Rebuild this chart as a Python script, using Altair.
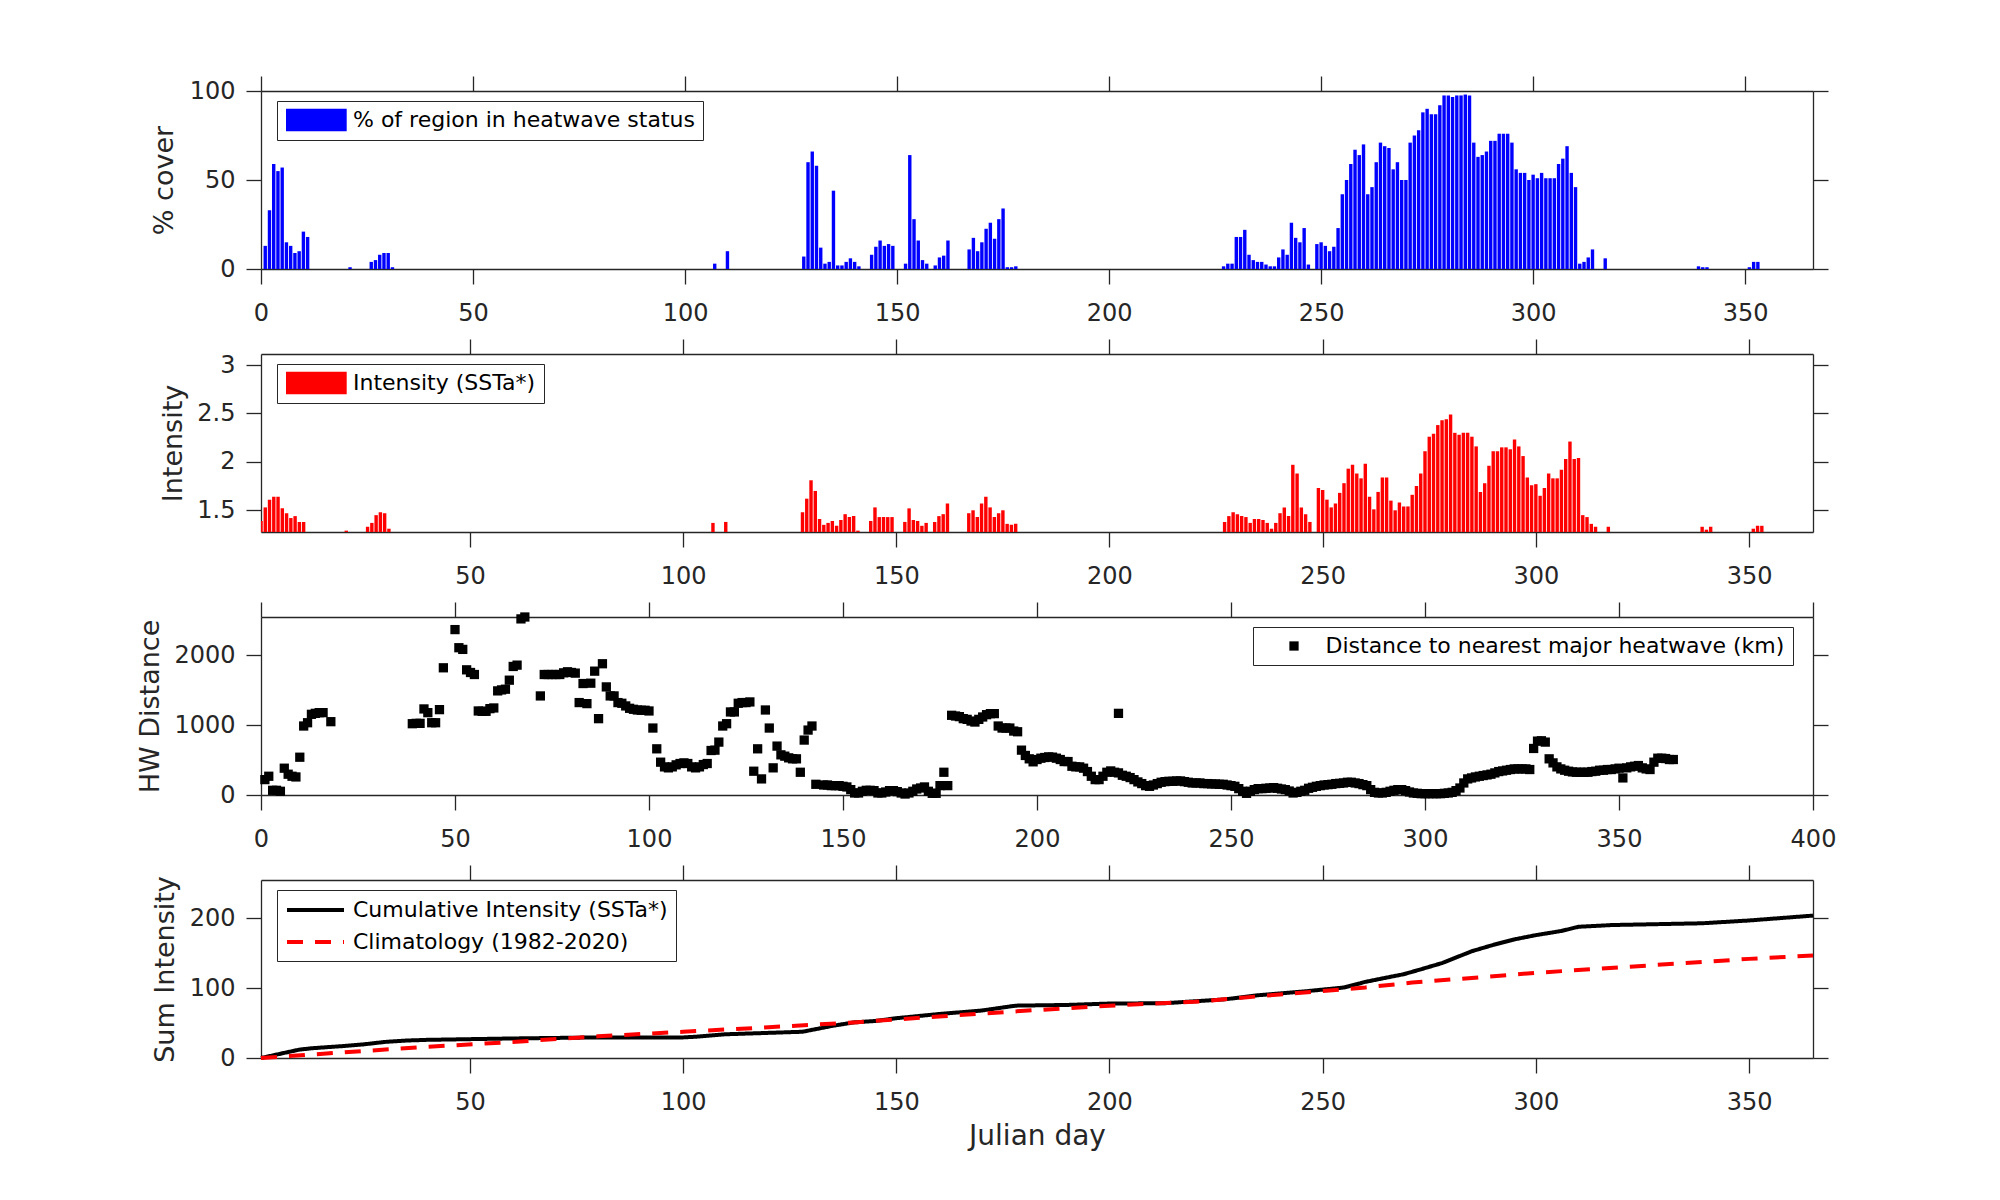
import altair as alt
import pandas as pd

FONT = "DejaVu Sans"
AX = "#262626"
BLUE = "#0000ff"
RED = "#ff0000"

# ---------------- data ----------------
# days with a heatwave signal (same days for % cover and intensity)
event_days = [*range(1, 12), 21, *range(26, 32), 107, 110, *range(128, 142),
              *range(144, 150), *range(152, 158), *range(159, 163), *range(167, 179),
              *range(227, 248), *range(249, 315), 317, *range(339, 342), *range(351, 354)]

cover_pct = [13, 33, 59, 55, 57, 15, 13, 9, 10, 21, 18,
             1,
             4, 5, 8, 9, 9, 1,
             3,
             10,
             7, 60, 66, 58, 12, 3, 4, 44, 2, 2, 4, 6, 4, 1.5,
             8, 12.5, 16, 13, 14, 13,
             3, 64, 28, 16, 5, 3,
             2, 6.5, 7.5, 16,
             11, 17.5, 10, 15, 22.6, 26, 17, 28, 34, 1, 1, 1.5,
             1.5, 3, 3, 18, 18, 22, 8, 5, 4, 4, 2.5, 1.5, 1.5, 6.5, 11, 8, 26, 17.5, 15, 23, 2.5,
             14, 15, 13, 10, 12.5, 23, 42, 50, 59, 67, 64, 70, 42, 46, 60, 71, 69, 68, 56, 60,
             50, 50, 71, 75, 78, 88, 90, 87, 87, 92, 97.5, 97.5, 96.6, 97.5, 97.5, 98, 97.5, 71, 63, 64,
             66, 72, 72, 76, 76, 76, 71, 56, 54, 54, 50, 53, 51, 54, 51, 51, 51, 59, 62, 69,
             54, 46, 3, 4, 6.5, 11,
             6,
             1.5, 1, 1,
             1, 4, 4]

intensity_ssta = [1.39, 1.53, 1.61, 1.64, 1.64, 1.52, 1.47, 1.42, 1.44, 1.38, 1.38,
                  1.29,
                  1.33, 1.37, 1.45, 1.48, 1.47, 1.31,
                  1.37,
                  1.38,
                  1.48, 1.62, 1.81, 1.70, 1.41, 1.35, 1.37, 1.39, 1.34, 1.40, 1.46, 1.43, 1.44, 1.29,
                  1.39, 1.53, 1.43, 1.43, 1.43, 1.43,
                  1.38, 1.52, 1.40, 1.39, 1.34, 1.37,
                  1.38, 1.44, 1.46, 1.57,
                  1.47, 1.50, 1.43, 1.57, 1.64, 1.53, 1.43, 1.47, 1.50, 1.36, 1.35, 1.36,
                  1.38, 1.44, 1.48, 1.46, 1.44, 1.43, 1.37, 1.41, 1.41, 1.40, 1.37, 1.31, 1.37, 1.47,
                  1.53, 1.44, 1.97, 1.88, 1.53, 1.46, 1.38,
                  1.73, 1.71, 1.61, 1.53, 1.57, 1.68, 1.78, 1.93, 1.97, 1.88, 1.83, 1.98, 1.64, 1.51,
                  1.69, 1.84, 1.84, 1.60, 1.50, 1.58, 1.54, 1.54, 1.66, 1.75, 1.88, 2.11, 2.26, 2.29,
                  2.38, 2.43, 2.44, 2.49, 2.30, 2.28, 2.30, 2.30, 2.26, 2.16, 1.69, 1.78, 1.96, 2.11,
                  2.11, 2.15, 2.15, 2.13, 2.23, 2.16, 2.06, 1.84, 1.76, 1.77, 1.65, 1.73, 1.88, 1.83,
                  1.83, 1.92, 2.03, 2.21, 2.03, 2.04, 1.45, 1.43, 1.36, 1.33,
                  1.33,
                  1.33, 1.30, 1.33,
                  1.31, 1.34, 1.34]

dist_days = [*range(1, 17), 18, *range(39, 48), *range(50, 69), *range(72, 144),
             *range(145, 282), 221, *range(282, 365)]
dist_km = [220, 268, 67, 67, 53, 383, 297, 268, 258, 540, 986, 1033, 1153, 1167, 1177, 1177,
           1048,
           1019, 1024, 1024, 1230, 1177, 1033, 1033, 1220, 1818,
           2364, 2105, 2081, 1789, 1751, 1722, 1201, 1196, 1196, 1234, 1244, 1488, 1502, 1512,
           1641, 1837, 1856, 2517, 2544,
           1416, 1722, 1722, 1722, 1722, 1722, 1746, 1761, 1751, 1742,
           1321, 1593, 1306, 1598, 1770, 1091, 1876, 1545, 1416, 1416,
           1321, 1311, 1273, 1239, 1225, 1215, 1211, 1211, 1201, 957,
           660, 469, 402, 388, 402, 431, 450, 459, 450, 402,
           388, 402, 435, 450, 636, 641, 756, 986, 1019, 1187,
           1187, 1311, 1321, 1321, 1330, 340, 660, 230, 1215, 957,
           388, 699, 574, 555, 531, 517, 517, 325, 785, 928,
           986, 153,
           143, 143, 134, 134, 134, 124, 115, 77, 29, 29,
           53, 67, 67, 62, 29, 29, 43, 62, 62, 48,
           29, 14, 29, 53, 86, 100, 115, 53, 24, 24,
           134, 325, 134, 1139, 1129, 1120, 1091, 1081, 1057, 1043,
           1081, 1115, 1148, 1163, 1163, 986, 957, 957, 957, 914,
           904, 641, 565, 517, 474, 507, 526, 536, 545, 541,
           526, 507, 478, 478, 411, 402, 402, 383, 335, 268,
           220, 220, 268, 325, 344, 325, 316, 282, 268, 249,
           220, 187, 163, 134, 124, 143, 163, 182, 191, 196,
           196, 201, 201, 191, 182, 172, 172, 172, 163, 163,
           158, 158, 153, 153, 143, 134, 124, 91, 53, 24,
           53, 77, 91, 91, 96, 100, 105, 96, 86, 77,
           57, 29, 38, 53, 67, 96, 110, 124, 134, 143,
           148, 153, 163, 167, 172, 182, 182,
           1167,
           172, 163, 148, 134, 77, 38, 29, 29, 38, 53,
           67, 77, 77, 62, 43, 29, 24, 19, 19, 19,
           19, 19, 19, 24, 29, 38, 62, 100, 172, 230,
           244, 258, 268, 278, 287, 297, 316, 335, 344, 354,
           364, 373, 373, 373, 373, 364, 665, 770, 775, 756,
           517, 459, 402, 373, 354, 340, 330, 325, 325, 325,
           325, 335, 340, 354, 354, 364, 364, 373, 383, 244,
           388, 402, 411, 421, 388, 373, 364, 469, 526, 526,
           521, 507, 507]

cum_days = [1, 6, 10, 13, 20, 25, 30, 35, 40, 50, 60, 80, 100, 103, 110, 120, 128, 135, 140,
            145, 150, 160, 170, 178, 190, 200, 213, 227, 235, 245, 255, 260, 264, 269, 273,
            278, 285, 290, 295, 300, 306, 310, 318, 339, 350, 365]
cum_vals = [0, 6.7, 12, 14, 17, 19.5, 23, 25, 26, 27, 28, 29.5, 29.5, 30.5, 34, 36, 37.6, 46, 51,
            53, 57, 63, 68, 75, 76, 78, 78.5, 84, 90, 95, 101, 109, 114, 120, 127,
            136, 153, 162, 170, 176, 182, 188, 190.5, 193, 197, 204]
clim_days = [1, 20, 40, 60, 80, 100, 120, 140, 160, 180, 200, 220, 240, 260, 271, 300, 350, 365]
clim_vals = [0, 8, 16, 23, 31, 37.6, 44, 51, 59.5, 67.6, 75, 80.5, 91, 101, 108, 122, 142, 147]

L_COVER = "% of region in heatwave status"
L_INT = "Intensity (SSTa*)"
L_DIST = "Distance to nearest major heatwave (km)"
L_CUM = "Cumulative Intensity (SSTa*)"
L_CLIM = "Climatology (1982-2020)"

assert len(event_days) == len(cover_pct) == len(intensity_ssta), (len(event_days), len(cover_pct), len(intensity_ssta))
assert len(dist_days) == len(dist_km), (len(dist_days), len(dist_km))
assert len(cum_days) == len(cum_vals) and len(clim_days) == len(clim_vals)

W, H = 1552, 178
ticks_366 = list(range(0, 351, 50))
ticks_365 = list(range(50, 351, 50))
ticks_400 = list(range(0, 401, 50))


def leg(x, y, **kw):
    base = dict(orient="none", legendX=x, legendY=y, title=None, padding=8,
                strokeColor=AX, fillColor="white", cornerRadius=0,
                labelFont=FONT, labelFontSize=22, labelColor="black", labelLimit=2000)
    base.update(kw)
    return alt.Legend(**base)


def frame(df, xf, yf, xs, ys, xt, yt):
    return alt.Chart(df).mark_point(opacity=0).encode(
        x=alt.X(f"{xf}:Q", scale=xs, axis=alt.Axis(orient="top", values=xt, labels=False, title=None)),
        y=alt.Y(f"{yf}:Q", scale=ys, axis=alt.Axis(orient="right", values=yt, labels=False, title=None)),
    )


def panel(main, fr):
    return alt.layer(main, fr).resolve_axis(x="independent", y="independent").properties(width=W, height=H)


BAR_PATH = "M-1,-1.135L5.07,-1.135L5.07,1.135L-1,1.135Z"
LINE_PATH = "M-1,0L4.7,0"

# ---- panel 1: % cover ----
df1 = pd.DataFrame({"day": event_days, "pct": cover_pct, "series": L_COVER})
sx1 = alt.Scale(domain=[0, 366], nice=False, zero=False)
sy1 = alt.Scale(domain=[0, 100], nice=False)
p1_main = alt.Chart(df1).transform_calculate(
    x0="datum.day - 0.4", x1="datum.day + 0.4"
).mark_bar().encode(
    x=alt.X("x0:Q", scale=sx1, axis=alt.Axis(orient="bottom", values=ticks_366, title=None)),
    x2="x1:Q",
    y=alt.Y("pct:Q", scale=sy1, axis=alt.Axis(orient="left", values=[0, 50, 100], title="% cover",
                                              titleX=-97, titleY=H / 2, titleBaseline="middle")),
    y2=alt.datum(0),
    color=alt.Color("series:N", scale=alt.Scale(domain=[L_COVER], range=[BLUE]),
                    legend=leg(16, 10, symbolType=BAR_PATH, symbolSize=400, symbolStrokeWidth=0,
                               symbolOpacity=1, labelOffset=46)),
)
p1 = panel(p1_main, frame(df1, "day", "pct", sx1, sy1, ticks_366, [0, 50, 100]))

# ---- panel 2: intensity ----
df2 = pd.DataFrame({"day": event_days, "inten": intensity_ssta, "series": L_INT})
sx2 = alt.Scale(domain=[1, 365], nice=False, zero=False)
sy2 = alt.Scale(domain=[1.276, 3.114], nice=False, zero=False)
p2_main = alt.Chart(df2).transform_calculate(
    x0="datum.day - 0.4", x1="datum.day + 0.4"
).mark_bar(clip=True).encode(
    x=alt.X("x0:Q", scale=sx2, axis=alt.Axis(orient="bottom", values=ticks_365, title=None)),
    x2="x1:Q",
    y=alt.Y("inten:Q", scale=sy2, axis=alt.Axis(orient="left", values=[1.5, 2, 2.5, 3], format="~g",
                                                title="Intensity", titleX=-88, titleY=H / 2,
                                                titleBaseline="middle")),
    y2=alt.datum(0),
    color=alt.Color("series:N", scale=alt.Scale(domain=[L_INT], range=[RED]),
                    legend=leg(16, 10, symbolType=BAR_PATH, symbolSize=400, symbolStrokeWidth=0,
                               symbolOpacity=1, labelOffset=46)),
)
p2 = panel(p2_main, frame(df2, "day", "inten", sx2, sy2, ticks_365, [1.5, 2, 2.5, 3]))

# ---- panel 3: distance ----
df3 = pd.DataFrame({"day": dist_days, "km": dist_km, "series": L_DIST})
sx3 = alt.Scale(domain=[0, 400], nice=False, zero=False)
sy3 = alt.Scale(domain=[0, 2544], nice=False)
p3_main = alt.Chart(df3).mark_square(size=86, opacity=1, filled=True).encode(
    x=alt.X("day:Q", scale=sx3, axis=alt.Axis(orient="bottom", values=ticks_400, title=None)),
    y=alt.Y("km:Q", scale=sy3, axis=alt.Axis(orient="left", values=[0, 1000, 2000], format="d",
                                             title="HW Distance", titleX=-111, titleY=H / 2,
                                             titleBaseline="middle")),
    color=alt.Color("series:N", scale=alt.Scale(domain=[L_DIST], range=["black"]),
                    legend=leg(992, 10, symbolType="square", symbolSize=86, symbolStrokeWidth=0,
                               symbolOpacity=1, symbolOffset=22, labelOffset=20.5)),
)
p3 = panel(p3_main, frame(df3, "day", "km", sx3, sy3, ticks_400, [0, 1000, 2000]))

# ---- panel 4: cumulative intensity ----
df4 = pd.concat([
    pd.DataFrame({"day": cum_days, "val": cum_vals, "series": L_CUM}),
    pd.DataFrame({"day": clim_days, "val": clim_vals, "series": L_CLIM}),
], ignore_index=True)
sx4 = alt.Scale(domain=[1, 365], nice=False, zero=False)
sy4 = alt.Scale(domain=[0, 255], nice=False)
leg4 = leg(16, 10, symbolType=LINE_PATH, symbolSize=400, symbolStrokeWidth=4, labelOffset=44,
           rowPadding=9)
p4_main = alt.Chart(df4).mark_line(strokeWidth=4).encode(
    x=alt.X("day:Q", scale=sx4, axis=alt.Axis(orient="bottom", values=ticks_365, title="Julian day",
                                              titleY=78, titleBaseline="middle", titleFontSize=28)),
    y=alt.Y("val:Q", scale=sy4, axis=alt.Axis(orient="left", values=[0, 100, 200],
                                              title="Sum Intensity", titleX=-96, titleY=H / 2,
                                              titleBaseline="middle")),
    color=alt.Color("series:N", sort=None, scale=alt.Scale(domain=[L_CUM, L_CLIM], range=["black", RED]),
                    legend=leg4),
    strokeDash=alt.StrokeDash("series:N", sort=None,
                              scale=alt.Scale(domain=[L_CUM, L_CLIM], range=[[1, 0], [16, 12]]),
                              legend=leg4),
)
p4 = panel(p4_main, frame(df4, "day", "val", sx4, sy4, ticks_365, [0, 100, 200]))

chart = alt.vconcat(p1, p2, p3, p4, spacing=85, bounds="flush").resolve_scale(
    color="independent", strokeDash="independent"
).resolve_legend(color="independent", strokeDash="independent").properties(
    padding={"left": 127, "top": 67, "right": 40, "bottom": 30}
).configure_view(stroke=None).configure_axis(
    domainColor=AX, domainWidth=1.3, tickColor=AX, tickWidth=1.3, tickSize=15,
    labelColor=AX, labelFont=FONT, labelFontSize=24, titleFont=FONT, titleFontSize=27,
    titleFontWeight="normal", titleColor=AX, grid=False, labelFlush=False, labelOverlap=False,
).configure_axisBottom(labelPadding=17).configure_axisLeft(labelPadding=11)

chart.save("out.html", embed_options={"renderer": "svg", "actions": False})
